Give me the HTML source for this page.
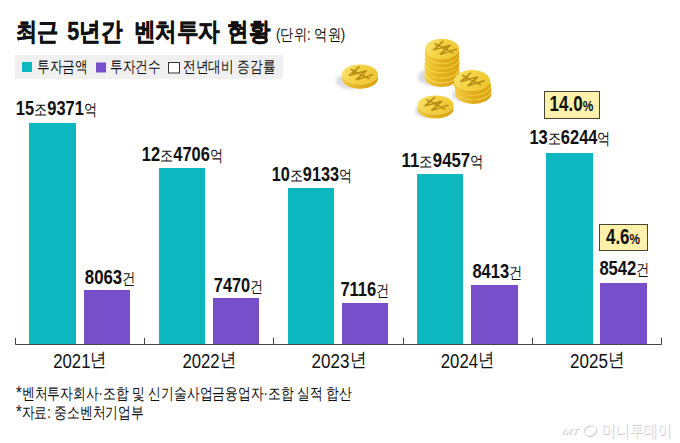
<!DOCTYPE html>
<html><head><meta charset="utf-8"><title>벤처투자 현황</title>
<style>
html,body{margin:0;padding:0;background:#fff;}
body{width:680px;height:443px;overflow:hidden;}
svg{display:block;font-family:"Liberation Sans",sans-serif;}
</style></head><body>
<svg width="680" height="443" viewBox="0 0 680 443">
<rect x="15" y="55" width="268" height="24" fill="#f0f0f0"/>
<rect x="22" y="62" width="10" height="10" fill="#0db7bf"/>
<rect x="96" y="62.5" width="10" height="10" fill="#784fca"/>
<rect x="168.5" y="62.5" width="11" height="10.5" fill="#fff" stroke="#333" stroke-width="1"/>
<rect x="29" y="123" width="47" height="221" fill="#0db7bf"/>
<rect x="84" y="290" width="46" height="54" fill="#784fca"/>
<rect x="159" y="168" width="46" height="176" fill="#0db7bf"/>
<rect x="213" y="298" width="46" height="46" fill="#784fca"/>
<rect x="288" y="188" width="46" height="156" fill="#0db7bf"/>
<rect x="342" y="303" width="46" height="41" fill="#784fca"/>
<rect x="417" y="174" width="46" height="170" fill="#0db7bf"/>
<rect x="471" y="285" width="47" height="59" fill="#784fca"/>
<rect x="546" y="153" width="47" height="191" fill="#0db7bf"/>
<rect x="600" y="283" width="47" height="61" fill="#784fca"/>
<path d="M15.5 338V344.5H661.5V338M144.5 338V344M273.5 338V344M403.5 338V344M532.5 338V344" fill="none" stroke="#444" stroke-width="1"/>
<rect x="544.5" y="91.5" width="55" height="27" fill="#fdf1ab" stroke="#4a4636" stroke-width="1"/>
<rect x="599.5" y="224.5" width="48" height="26" fill="#fdf1ab" stroke="#4a4636" stroke-width="1"/>
<g font-family="Liberation Sans, sans-serif">
<text x="562.5" y="434.5" font-size="9.5" font-style="italic" font-weight="bold" fill="#d0d0d0" textLength="17" lengthAdjust="spacingAndGlyphs">MT</text>
<text x="561.5" y="433.5" font-size="9.5" font-style="italic" font-weight="bold" fill="#fafafa" textLength="17" lengthAdjust="spacingAndGlyphs">MT</text>
<ellipse cx="590.5" cy="431" rx="6.3" ry="5" fill="none" stroke="#d0d0d0" stroke-width="1.6" transform="rotate(-20 590.5 431)"/>
<ellipse cx="589.5" cy="430" rx="6.3" ry="5" fill="none" stroke="#fafafa" stroke-width="1.4" transform="rotate(-20 589.5 430)"/>
<text x="601.5" y="437" font-size="17" fill="#cfcfcf" textLength="71" lengthAdjust="spacingAndGlyphs">머니투데이</text>
<text x="600.5" y="436" font-size="17" fill="#fbfbfb" textLength="71" lengthAdjust="spacingAndGlyphs">머니투데이</text>
</g>

<defs>
<linearGradient id="face" x1="0" y1="0" x2="1" y2="0.3">
<stop offset="0" stop-color="#fbe47a"/><stop offset="0.45" stop-color="#f5d447"/><stop offset="1" stop-color="#efc733"/></linearGradient>
<linearGradient id="edge" x1="0" y1="0" x2="1" y2="0">
<stop offset="0" stop-color="#f2cc3e"/><stop offset="0.5" stop-color="#e2ae1c"/><stop offset="1" stop-color="#d9a313"/></linearGradient>
<filter id="blur" x="-50%" y="-50%" width="200%" height="200%"><feGaussianBlur stdDeviation="1.5"/></filter>
</defs>
<ellipse cx="351.00" cy="81.00" rx="15.00" ry="8.00" fill="#d4d4de" opacity="0.85" filter="url(#blur)"/>
<ellipse cx="433.00" cy="77.00" rx="15.00" ry="9.00" fill="#d4d4de" opacity="0.85" filter="url(#blur)"/>
<ellipse cx="465.00" cy="95.00" rx="13.00" ry="7.00" fill="#d4d4de" opacity="0.85" filter="url(#blur)"/>
<ellipse cx="428.00" cy="111.00" rx="13.00" ry="7.00" fill="#d4d4de" opacity="0.85" filter="url(#blur)"/>
<path d="M342.00,74.50 L342.00,78.80 A18.00,10.00 0 0 0 378.00,78.80 L378.00,74.50 A18.00,10.00 0 0 1 342.00,74.50 Z" fill="url(#edge)"/>
<ellipse cx="360.00" cy="74.50" rx="18.00" ry="10.00" fill="url(#face)"/>
<g transform="translate(358.00,74.50) scale(1.000)"><path d="M1,-7.5 L-8.5,0.8 L8.2,-3.6 L-1.6,5.2 L14.4,0.3 M-6.7,-5.1 L10.8,3.9" fill="none" stroke="#b98f17" stroke-width="1.7" stroke-linecap="round" stroke-linejoin="round"/></g>
<path d="M424.50,73.00 L424.50,76.80 A17.00,10.20 0 0 0 458.50,76.80 L458.50,73.00 A17.00,10.20 0 0 1 424.50,73.00 Z" fill="url(#edge)"/>
<ellipse cx="441.50" cy="73.00" rx="17.00" ry="10.20" fill="url(#face)"/>
<path d="M425.50,68.20 L425.50,72.00 A17.00,10.20 0 0 0 459.50,72.00 L459.50,68.20 A17.00,10.20 0 0 1 425.50,68.20 Z" fill="url(#edge)"/>
<ellipse cx="442.50" cy="68.20" rx="17.00" ry="10.20" fill="url(#face)"/>
<path d="M424.50,63.40 L424.50,67.20 A17.00,10.20 0 0 0 458.50,67.20 L458.50,63.40 A17.00,10.20 0 0 1 424.50,63.40 Z" fill="url(#edge)"/>
<ellipse cx="441.50" cy="63.40" rx="17.00" ry="10.20" fill="url(#face)"/>
<path d="M425.50,58.60 L425.50,62.40 A17.00,10.20 0 0 0 459.50,62.40 L459.50,58.60 A17.00,10.20 0 0 1 425.50,58.60 Z" fill="url(#edge)"/>
<ellipse cx="442.50" cy="58.60" rx="17.00" ry="10.20" fill="url(#face)"/>
<path d="M424.80,53.80 L424.80,57.60 A17.00,10.20 0 0 0 458.80,57.60 L458.80,53.80 A17.00,10.20 0 0 1 424.80,53.80 Z" fill="url(#edge)"/>
<ellipse cx="441.80" cy="53.80" rx="17.00" ry="10.20" fill="url(#face)"/>
<path d="M425.00,49.00 L425.00,52.80 A17.00,10.20 0 0 0 459.00,52.80 L459.00,49.00 A17.00,10.20 0 0 1 425.00,49.00 Z" fill="url(#edge)"/>
<ellipse cx="442.00" cy="49.00" rx="17.00" ry="10.20" fill="url(#face)"/>
<g transform="translate(442.00,49.00) scale(1.000)"><path d="M1,-7.5 L-8.5,0.8 L8.2,-3.6 L-1.6,5.2 L14.4,0.3 M-6.7,-5.1 L10.8,3.9" fill="none" stroke="#b98f17" stroke-width="1.7" stroke-linecap="round" stroke-linejoin="round"/></g>
<path d="M455.50,89.60 L455.50,93.40 A18.00,10.50 0 0 0 491.50,93.40 L491.50,89.60 A18.00,10.50 0 0 1 455.50,89.60 Z" fill="url(#edge)"/>
<ellipse cx="473.50" cy="89.60" rx="18.00" ry="10.50" fill="url(#face)"/>
<path d="M455.00,85.10 L455.00,88.90 A18.00,10.50 0 0 0 491.00,88.90 L491.00,85.10 A18.00,10.50 0 0 1 455.00,85.10 Z" fill="url(#edge)"/>
<ellipse cx="473.00" cy="85.10" rx="18.00" ry="10.50" fill="url(#face)"/>
<path d="M454.00,80.60 L454.00,84.40 A18.00,10.50 0 0 0 490.00,84.40 L490.00,80.60 A18.00,10.50 0 0 1 454.00,80.60 Z" fill="url(#edge)"/>
<ellipse cx="472.00" cy="80.60" rx="18.00" ry="10.50" fill="url(#face)"/>
<g transform="translate(469.50,80.60) scale(1.000)"><path d="M1,-7.5 L-8.5,0.8 L8.2,-3.6 L-1.6,5.2 L14.4,0.3 M-6.7,-5.1 L10.8,3.9" fill="none" stroke="#b98f17" stroke-width="1.7" stroke-linecap="round" stroke-linejoin="round"/></g>
<path d="M417.50,105.00 L417.50,109.00 A18.00,9.50 0 0 0 453.50,109.00 L453.50,105.00 A18.00,9.50 0 0 1 417.50,105.00 Z" fill="url(#edge)"/>
<ellipse cx="435.50" cy="105.00" rx="18.00" ry="9.50" fill="url(#face)"/>
<g transform="translate(433.50,105.00) scale(1.000)"><path d="M1,-7.5 L-8.5,0.8 L8.2,-3.6 L-1.6,5.2 L14.4,0.3 M-6.7,-5.1 L10.8,3.9" fill="none" stroke="#b98f17" stroke-width="1.7" stroke-linecap="round" stroke-linejoin="round"/></g>

<text x="16.10" y="40.00" font-size="25.00" font-weight="bold" textLength="42.30" lengthAdjust="spacingAndGlyphs" fill="#111" stroke="#111" stroke-width="0.5">최근</text>
<text x="67.20" y="40.00" font-size="25.00" font-weight="bold" textLength="55.20" lengthAdjust="spacingAndGlyphs" fill="#111" stroke="#111" stroke-width="0.5">5년간</text>
<text x="133.60" y="40.00" font-size="25.00" font-weight="bold" textLength="86.30" lengthAdjust="spacingAndGlyphs" fill="#111" stroke="#111" stroke-width="0.5">벤처투자</text>
<text x="227.40" y="40.00" font-size="25.00" font-weight="bold" textLength="42.80" lengthAdjust="spacingAndGlyphs" fill="#111" stroke="#111" stroke-width="0.5">현황</text>
<text x="276.00" y="40.30" font-size="16.00" font-weight="normal" textLength="69.20" lengthAdjust="spacingAndGlyphs" fill="#111">(단위: 억원)</text>
<text x="37.00" y="72.40" font-size="15.50" font-weight="normal" textLength="50.80" lengthAdjust="spacingAndGlyphs" fill="#111">투자금액</text>
<text x="110.00" y="72.40" font-size="15.50" font-weight="normal" textLength="50.80" lengthAdjust="spacingAndGlyphs" fill="#111">투자건수</text>
<text x="183.00" y="72.40" font-size="15.50" font-weight="normal" textLength="92.20" lengthAdjust="spacingAndGlyphs" fill="#111">전년대비 증감률</text>
<text x="15.80" y="114.50" font-size="20.00" font-weight="bold" textLength="81.20" lengthAdjust="spacingAndGlyphs" fill="#111">15<tspan font-size="15.60" font-weight="normal">조</tspan>9371<tspan font-size="15.60" font-weight="normal">억</tspan></text>
<text x="141.80" y="161.10" font-size="20.00" font-weight="bold" textLength="81.20" lengthAdjust="spacingAndGlyphs" fill="#111">12<tspan font-size="15.60" font-weight="normal">조</tspan>4706<tspan font-size="15.60" font-weight="normal">억</tspan></text>
<text x="271.80" y="180.50" font-size="20.00" font-weight="bold" textLength="80.20" lengthAdjust="spacingAndGlyphs" fill="#111">10<tspan font-size="15.60" font-weight="normal">조</tspan>9133<tspan font-size="15.60" font-weight="normal">억</tspan></text>
<text x="401.60" y="167.10" font-size="20.00" font-weight="bold" textLength="82.00" lengthAdjust="spacingAndGlyphs" fill="#111">11<tspan font-size="15.60" font-weight="normal">조</tspan>9457<tspan font-size="15.60" font-weight="normal">억</tspan></text>
<text x="529.40" y="143.60" font-size="20.00" font-weight="bold" textLength="81.20" lengthAdjust="spacingAndGlyphs" fill="#111">13<tspan font-size="15.60" font-weight="normal">조</tspan>6244<tspan font-size="15.60" font-weight="normal">억</tspan></text>
<text x="84.80" y="283.60" font-size="20.00" font-weight="bold" textLength="50.80" lengthAdjust="spacingAndGlyphs" fill="#111">8063<tspan font-size="15.60" font-weight="normal">건</tspan></text>
<text x="213.80" y="292.00" font-size="20.00" font-weight="bold" textLength="49.40" lengthAdjust="spacingAndGlyphs" fill="#111">7470<tspan font-size="15.60" font-weight="normal">건</tspan></text>
<text x="340.40" y="296.00" font-size="20.00" font-weight="bold" textLength="49.00" lengthAdjust="spacingAndGlyphs" fill="#111">7116<tspan font-size="15.60" font-weight="normal">건</tspan></text>
<text x="472.40" y="278.30" font-size="20.00" font-weight="bold" textLength="50.00" lengthAdjust="spacingAndGlyphs" fill="#111">8413<tspan font-size="15.60" font-weight="normal">건</tspan></text>
<text x="599.40" y="275.20" font-size="20.00" font-weight="bold" textLength="50.20" lengthAdjust="spacingAndGlyphs" fill="#111">8542<tspan font-size="15.60" font-weight="normal">건</tspan></text>
<text x="549.60" y="111.30" font-size="22.00" font-weight="bold" textLength="43.60" lengthAdjust="spacingAndGlyphs" fill="#111">14.0<tspan font-size="15.40" font-weight="bold">%</tspan></text>
<text x="606.00" y="243.90" font-size="22.00" font-weight="bold" textLength="34.00" lengthAdjust="spacingAndGlyphs" fill="#111">4.6<tspan font-size="15.40" font-weight="bold">%</tspan></text>
<text x="53.20" y="367.60" font-size="19.50" font-weight="normal" textLength="53.60" lengthAdjust="spacingAndGlyphs" fill="#111">2021<tspan font-size="18.72" font-weight="normal" dy="-1.2">년</tspan></text>
<text x="182.40" y="367.60" font-size="19.50" font-weight="normal" textLength="53.60" lengthAdjust="spacingAndGlyphs" fill="#111">2022<tspan font-size="18.72" font-weight="normal" dy="-1.2">년</tspan></text>
<text x="311.60" y="367.60" font-size="19.50" font-weight="normal" textLength="54.60" lengthAdjust="spacingAndGlyphs" fill="#111">2023<tspan font-size="18.72" font-weight="normal" dy="-1.2">년</tspan></text>
<text x="440.80" y="367.60" font-size="19.50" font-weight="normal" textLength="53.60" lengthAdjust="spacingAndGlyphs" fill="#111">2024<tspan font-size="18.72" font-weight="normal" dy="-1.2">년</tspan></text>
<text x="570.00" y="367.60" font-size="19.50" font-weight="normal" textLength="54.60" lengthAdjust="spacingAndGlyphs" fill="#111">2025<tspan font-size="18.72" font-weight="normal" dy="-1.2">년</tspan></text>
<text x="16.00" y="399.40" font-size="16.00" font-weight="normal" textLength="335.80" lengthAdjust="spacingAndGlyphs" fill="#111"><tspan font-size="18.40" font-weight="normal">*</tspan>벤처투자회사·조합 및 신기술사업금융업자·조합 실적 합산</text>
<text x="16.00" y="417.70" font-size="16.00" font-weight="normal" textLength="127.80" lengthAdjust="spacingAndGlyphs" fill="#111"><tspan font-size="18.40" font-weight="normal">*</tspan>자료: 중소벤처기업부</text>
</svg>
</body></html>
